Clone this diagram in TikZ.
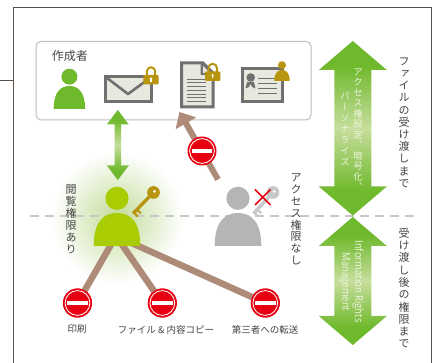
\documentclass[tikz,border=0pt]{standalone}
\usepackage{fontspec}
\usepackage{graphicx}
\setmainfont{Noto Sans CJK JP}
\newfontfamily\cjkv[RawFeature=+vert]{Noto Sans CJK JP}
\newfontfamily\latinthin{Open Sans}
\usetikzlibrary{arrows.meta,calc}
\definecolor{gArrow}{HTML}{6FB92C}
\definecolor{gLight}{HTML}{C6DE9C}
\definecolor{gPerson}{HTML}{6FBA2C}
\definecolor{yPerson}{HTML}{AACC03}
\definecolor{gGlow}{HTML}{C2DC98}
\definecolor{greyP}{HTML}{B5B5B5}
\definecolor{gold}{HTML}{B8950F}
\definecolor{brownL}{HTML}{AD8B78}
\definecolor{redS}{HTML}{E60012}
\definecolor{frameC}{HTML}{5A5048}
\definecolor{iconG}{HTML}{707070}
\definecolor{paper}{HTML}{E7E9DE}
\definecolor{txt}{HTML}{444444}
\definecolor{arrowTxt}{HTML}{EEF5DF}
\definecolor{keyG}{HTML}{C8C8C8}
\pgfdeclareverticalshading{dblshade}{100bp}{
  color(0bp)=(gArrow); color(32bp)=(gArrow); color(50bp)=(gLight);
  color(68bp)=(gArrow); color(100bp)=(gArrow)}
\newlength\vpitch
\makeatletter
\newcommand\vstack[2]{\setlength\vpitch{#1}\vbox{\offinterlineskip
  \@tfor\vch:=#2\do{\hbox{\vrule width 0pt height 0.82\vpitch depth 0.18\vpitch\hbox to 1em{\hfil\smash{\vch}\hfil}}}}}
\makeatother
\newcommand\dblarrow[5]{%
  \path[shading=dblshade]
    (#1) -- ($(#1)+(#4,#3)$) -- ($(#1)+(#5,#3)$) -- ($(#2)+(#5,-#3)$) -- ($(#2)+(#4,-#3)$) -- (#2)
    -- ($(#2)+(-#4,-#3)$) -- ($(#2)+(-#5,-#3)$) -- ($(#1)+(-#5,#3)$) -- ($(#1)+(-#4,#3)$) -- cycle;}
\newcommand\person[7]{%
  \fill[#7] (#1,#2) circle (#3);
  \fill[#7] ({#1-#4},#6) .. controls ({#1-#4},{#5+0.25*(#6-#5)}) and ({#1-0.55*#4},#5) .. (#1,#5)
    .. controls ({#1+0.55*#4},#5) and ({#1+#4},{#5+0.25*(#6-#5)}) .. ({#1+#4},#6) -- cycle;}
\newcommand\lock[2]{%
  \draw[gold,line width=2pt] ({#1-4.2},{#2+1}) -- ({#1-4.2},{#2-3.5}) arc[start angle=180,end angle=360,radius=4.2] -- ({#1+4.2},{#2+1});
  \fill[gold,rounded corners=1pt] ({#1-7.7},#2) rectangle ({#1+7.7},{#2+9.5});
  \fill[white] (#1,{#2+3.8}) circle (1.3);
  \fill[white] ({#1-0.6},{#2+3.8}) rectangle ({#1+0.6},{#2+7});}
\newcommand\keyicon[5]{%
  \draw[#5,line width=3.3pt] (#1,#2) -- (#3,#4);
  \begin{scope}[shift={(#3,#4)},rotate={atan2(#4-#2,#1-#3)}]
    \draw[#5,line width=2.2pt] (1.2,0) -- (1.2,5.5);
    \draw[#5,line width=2.2pt] (5.5,0) -- (5.5,5.5);
  \end{scope}
  \fill[#5] (#1,#2) circle (6.4);
  \fill[white] ({#1+1},{#2-1.2}) circle (1.5);}
\tikzset{
  x=1pt,y=-1pt,
  noentry/.style={circle,fill=redS,minimum size=29pt,inner sep=0pt,
    path picture={
      \draw[white,line width=0.8pt] (path picture bounding box.center) circle (12.4);
      \fill[white] ($(path picture bounding box.center)+(-10.3,-2.4)$) rectangle ($(path picture bounding box.center)+(10.3,2.4)$);}},
  brownline/.style={draw=brownL,line width=6.5pt},
  jlabel/.style={text=txt,inner sep=0pt,font=\fontsize{9.5}{11}\selectfont},
  vlabel/.style={text=txt,inner sep=0pt,font=\cjkv\fontsize{11}{12}\selectfont},
  varrow/.style={text=arrowTxt,inner sep=0pt,font=\cjkv\fontsize{9.3}{10}\selectfont},
  harrow/.style={text=arrowTxt,inner sep=0pt,rotate=-90,font=\latinthin\fontsize{11}{12}\selectfont},
  iconframe/.style={draw=iconG,fill=paper,line width=3pt},
  iconline/.style={draw=iconG,line width=0.8pt},
}
\begin{document}
\begin{tikzpicture}
\useasboundingbox (0,0) rectangle (432,363);
\fill[white] (0,0) rectangle (432,363);
\draw[frameC,line width=1pt] (13,363) -- (13,8) -- (431,8) -- (431,363);
\draw[frameC,line width=0.8pt] (0,80.5) -- (13,80.5);
\node[draw=black!25,line width=1pt,rounded corners=5pt,fill=white,inner sep=0pt,minimum width=275pt,minimum height=78.5pt] (panel) at (173.5,80.7) {};
\node[text=txt,inner sep=0pt,font=\fontsize{12}{14}\selectfont] (author) at (70,55.5) {作成者};
\person{69.4}{76.7}{8}{15.7}{86}{108.8}{gPerson}
\draw[iconframe] (105.5,76.5) rectangle (151,102);
\draw[draw=iconG,line width=2.6pt,line join=round] (107,78) -- (128,94) -- (150,78);
\lock{151}{75}
\draw[iconframe,line join=miter] (181.5,63) -- (203,63) -- (213,73) -- (213,107) -- (181.5,107) -- cycle;
\fill[iconG] (200.5,62) -- (203,62) -- (214,73) -- (214,75) -- (200.5,75) -- cycle;
\fill[paper] (203,66) -- (210,73) -- (203,73) -- cycle;
\foreach \yy in {79.2,82.9,86.6,90.3,94,97.7,101.4} \draw[iconline] (187,\yy) -- (206,\yy);
\lock{212.7}{71.5}
\draw[iconframe] (242.2,68.5) rectangle (282,102);
\fill[iconG] (247,82) -- (245.5,88.5) -- (249,87) -- (250.5,84) -- (252,87) -- (255.5,88.5) -- (254,82) -- cycle;
\fill[iconG] (250.7,77.5) circle (4.3);
\foreach \yy in {78.7,83.5,88.3,93.2} \draw[iconline] (258,\yy) -- (277,\yy);
\person{282}{65.2}{4}{7.7}{70}{81}{gold}
\shade[inner color=gGlow,outer color=white] (117,218) circle (66);
\draw[keyG,line width=2pt,dash pattern=on 9pt off 6pt] (30,216.5) -- (416,216.5);
\coordinate (hub) at (116,236);
\node[noentry] (ne1) at (77.5,303) {};
\node[noentry] (ne2) at (162.3,303) {};
\node[noentry] (ne3) at (265.3,303) {};
\coordinate (gfrom) at (218,179.5);
\coordinate (gto) at (179.5,112);
\draw[brownline] (hub) -- (ne1.center);
\draw[brownline] (hub) -- (ne2.center);
\draw[brownline] (hub) -- (ne3.center);
\draw[draw=brownL,line width=6pt,-{Triangle[width=23pt,length=13pt]}] (gfrom) -- (gto);
\node[noentry] at (ne1) {};
\node[noentry] at (ne2) {};
\node[noentry] at (ne3) {};
\node[noentry] (ne0) at (202,151) {};
\person{117}{198.3}{11.6}{23.3}{213}{246}{yPerson}
\keyicon{153.5}{192.5}{133}{213.5}{gold}
\person{238}{198.3}{11.6}{23.3}{213}{246}{greyP}
\keyicon{273}{192.5}{253.5}{213.5}{keyG}
\draw[redS,line width=1.6pt] (255,189.5) -- (270.5,205);
\draw[redS,line width=1.6pt] (255,205) -- (270.5,189.5);
\coordinate (a1) at (117.8,110); \coordinate (a2) at (117.8,180);
\dblarrow{a1}{a2}{14.5}{11}{3.2}
\coordinate (b1) at (352.8,41); \coordinate (b2) at (352.8,215.5);
\dblarrow{b1}{b2}{29}{34}{18.5}
\coordinate (c1) at (352.8,217); \coordinate (c2) at (352.8,345);
\dblarrow{c1}{c2}{29}{34}{18.5}
\node[varrow,anchor=north] (t1) at (358,66.5) {\vstack{10.5pt}{アクセス権設定、暗号化、}};
\node[varrow,anchor=north] (t2) at (345,90) {\vstack{11pt}{パーソナライズ}};
\node[harrow] (t3) at (358,281.5) {\scalebox{0.86}[1]{Information Rights}};
\node[harrow] (t4) at (345,282) {\scalebox{0.86}[1]{Management}};
\node[vlabel,anchor=north] (r1) at (404,55) {\vstack{12.2pt}{ファイルの受け渡しまで}};
\node[vlabel,anchor=north] (r2) at (404,227) {\vstack{12.3pt}{受け渡し後の権限まで}};
\node[vlabel,anchor=north] (l1) at (71,184) {\vstack{11.9pt}{閲覧権限あり}};
\node[vlabel,anchor=north] (l2) at (296,171.5) {\vstack{11.9pt}{アクセス権限なし}};
\node[jlabel] (b-print) at (77,329) {印刷};
\node[jlabel] (b-copy) at (166,330) {ファイル \& 内容コピー};
\node[jlabel] (b-fwd) at (265,330) {第三者への転送};
\end{tikzpicture}
\end{document}
